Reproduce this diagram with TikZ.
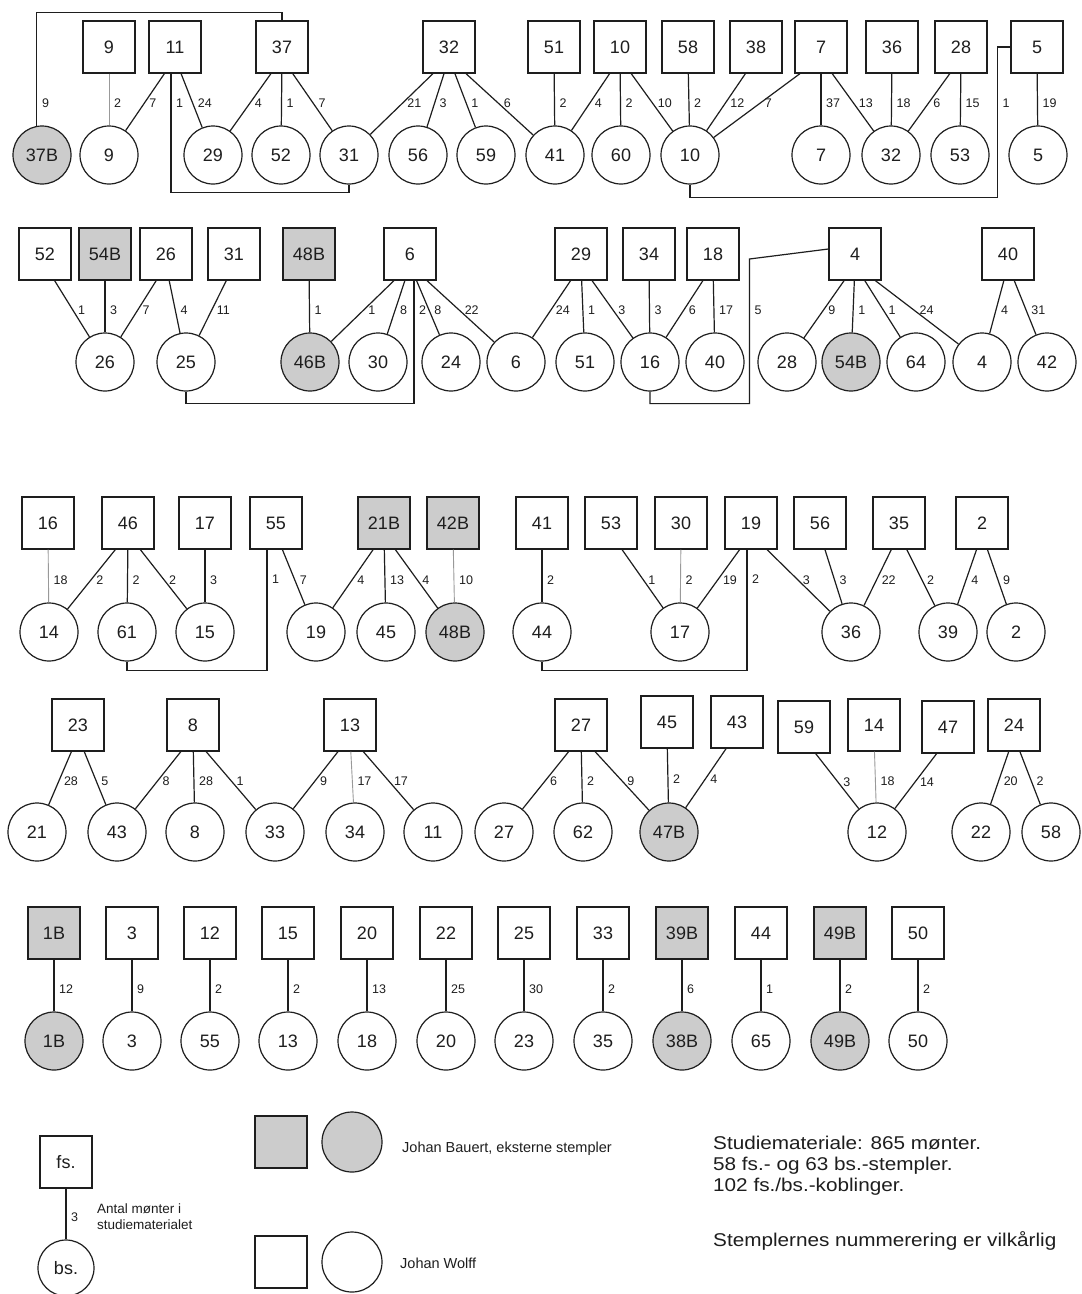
\documentclass[tikz,border=0pt]{standalone}
\usepackage{fontspec}
\setmainfont{Liberation Sans}
\newfontfamily\widefont[FakeStretch=1.12]{Liberation Sans}
\usetikzlibrary{calc}
\definecolor{extfill}{RGB}{204,204,204}
\definecolor{inkc}{RGB}{30,30,30}
\tikzset{
  nodefont/.style={font=\fontsize{18}{18}\selectfont},
  sq/.style={draw=inkc, line width=1.2pt, minimum size=52pt, inner sep=0pt, nodefont, text=inkc},
  ci/.style={circle, draw=inkc, line width=1.2pt, minimum size=58pt, inner sep=0pt, nodefont, text=inkc},
  ext/.style={fill=extfill},
  ln/.style={draw=inkc, line width=1.2pt},
  lg/.style={draw=black!40, line width=0.9pt},
  lab/.style={anchor=west, inner sep=0pt, xshift=5pt, font=\fontsize{12.5}{12.5}\selectfont, text=inkc},
  txt/.style={anchor=base west, inner sep=0pt, text=inkc},
}
\newcommand\lk[4][]{%
  \coordinate (lkS) at ($(#2.south)!0.16!(#2.south -| #3)$);
  \draw[ln,#1] (lkS) -- (#3);
  \node[lab] at ($(lkS)!0.366!(#3)$) {#4};}
\begin{document}
\begin{tikzpicture}[x=1pt,y=-1pt]
\useasboundingbox (0,0) rectangle (1082,1294);
\fill[white] (0,0) rectangle (1082,1294);

% ---------- Row A ----------
\foreach \n/\x in {9/109,11/175,37/282,32/449,51/554,10/620,58/688,38/756,7/821,36/892,28/961,5/1037}
  \node[sq] (sA\n) at (\x,47) {\n};
\foreach \n/\x in {9/109,29/213,52/281,31/349,56/418,59/486,41/555,60/621,10/690,7/821,32/891,53/960,5/1038}
  \node[ci] (cA\n) at (\x,155) {\n};
\node[ci,ext] (cA37B) at (42,155) {37B};

\lk[lg]{sA9}{cA9}{2}
\lk{sA11}{cA9}{7}
\lk{sA11}{cA29}{24}
\lk{sA37}{cA29}{4}
\lk{sA37}{cA52}{1}
\lk{sA37}{cA31}{7}
\lk{sA32}{cA31}{21}
\lk{sA32}{cA56}{3}
\lk{sA32}{cA59}{1}
\lk{sA32}{cA41}{6}
\lk{sA51}{cA41}{2}
\lk{sA10}{cA41}{4}
\lk{sA10}{cA60}{2}
\lk{sA10}{cA10}{10}
\lk{sA58}{cA10}{2}
\lk{sA38}{cA10}{12}
\lk{sA7}{cA10}{7}
\lk{sA7}{cA7}{37}
\lk{sA7}{cA32}{13}
\lk{sA36}{cA32}{18}
\lk{sA28}{cA32}{6}
\lk{sA28}{cA53}{15}
\lk{sA5}{cA5}{19}

\coordinate (kA37) at (cA37B.100);
\draw[ln] (kA37) |- ($(sA37.north)+(0,-8)$) -- (sA37.north);
\node[lab] at (kA37 |- 0,103) {9};
\coordinate (kA11) at ([xshift=-4]sA11.south);
\draw[ln] (kA11) |- ($(cA31.south)+(0,8)$) -- (cA31.south);
\node[lab] at (kA11 |- 0,103) {1};
\coordinate (kA5) at ($(sA5.west)+(-13,0)$);
\draw[ln] (sA5.west) -- (kA5) |- ($(cA10.south)+(0,13)$) -- (cA10.south);
\node[lab] at (kA5 |- 0,103) {1};

% ---------- Row B ----------
\foreach \n/\x in {52/45,26/166,31/234,6/410,29/581,34/649,18/713,4/855,40/1008}
  \node[sq] (sB\n) at (\x,254) {\n};
\node[sq,ext] (sB54B) at (105,254) {54B};
\node[sq,ext] (sB48B) at (309,254) {48B};
\foreach \n/\x in {26/105,25/186,30/378,24/451,6/516,51/585,16/650,40/715,28/787,64/916,4/982,42/1047}
  \node[ci] (cB\n) at (\x,362) {\n};
\node[ci,ext] (cB46B) at (310,362) {46B};
\node[ci,ext] (cB54B) at (851,362) {54B};

\lk{sB52}{cB26}{1}
\lk{sB54B}{cB26}{3}
\lk{sB26}{cB26}{7}
\lk{sB26}{cB25}{4}
\lk{sB31}{cB25}{11}
\lk{sB48B}{cB46B}{1}
\lk{sB6}{cB46B}{1}
\lk{sB6}{cB30}{8}
\lk{sB6}{cB24}{8}
\lk{sB6}{cB6}{22}
\lk{sB29}{cB6}{24}
\lk{sB29}{cB51}{1}
\lk{sB29}{cB16}{3}
\lk{sB34}{cB16}{3}
\lk{sB18}{cB16}{6}
\lk{sB18}{cB40}{17}
\lk{sB4}{cB28}{9}
\lk{sB4}{cB54B}{1}
\lk{sB4}{cB64}{1}
\lk{sB4}{cB4}{24}
\lk{sB40}{cB4}{4}
\lk{sB40}{cB42}{31}

\coordinate (kB6) at ([xshift=4]sB6.south);
\draw[ln] (kB6) |- ($(cB25.south)+(0,12)$) -- (cB25.south);
\node[lab] at (kB6 |- 0,310) {2};
\coordinate (kB4) at ($(sB4.west)+(-79,5)$);
\draw[ln] ([yshift=5]sB4.west) -- (kB4) |- ($(cB16.south)+(0,12)$) -- (cB16.south);
\node[lab] at (kB4 |- 0,310) {5};

% ---------- Row C ----------
\foreach \n/\x in {16/48,46/128,17/205,55/276,41/542,53/611,30/681,19/751,56/820,35/899,2/982}
  \node[sq] (sC\n) at (\x,523) {\n};
\node[sq,ext] (sC21B) at (384,523) {21B};
\node[sq,ext] (sC42B) at (453,523) {42B};
\foreach \n/\x in {14/49,61/127,15/205,19/316,45/386,44/542,17/680,36/851,39/948,2/1016}
  \node[ci] (cC\n) at (\x,632) {\n};
\node[ci,ext] (cC48B) at (455,632) {48B};

\lk[lg]{sC16}{cC14}{18}
\lk{sC46}{cC14}{2}
\lk{sC46}{cC61}{2}
\lk{sC46}{cC15}{2}
\lk{sC17}{cC15}{3}
\lk{sC55}{cC19}{7}
\lk{sC21B}{cC19}{4}
\lk{sC21B}{cC45}{13}
\lk{sC21B}{cC48B}{4}
\lk[lg]{sC42B}{cC48B}{10}
\lk{sC41}{cC44}{2}
\lk{sC53}{cC17}{1}
\lk[lg]{sC30}{cC17}{2}
\lk{sC19}{cC17}{19}
\lk{sC19}{cC36}{3}
\lk{sC56}{cC36}{3}
\lk{sC35}{cC36}{22}
\lk{sC35}{cC39}{2}
\lk{sC2}{cC39}{4}
\lk{sC2}{cC2}{9}

\coordinate (kC55) at ([xshift=-9]sC55.south);
\draw[ln] (kC55) |- ($(cC61.south)+(0,9)$) -- (cC61.south);
\node[lab] at (kC55 |- 0,579) {1};
\coordinate (kC19) at ([xshift=-4]sC19.south);
\draw[ln] (kC19) |- ($(cC44.south)+(0,9)$) -- (cC44.south);
\node[lab] at (kC19 |- 0,579) {2};

% ---------- Row D ----------
\foreach \n/\x in {23/78,8/193,13/350,27/581,14/874,24/1014}
  \node[sq] (sD\n) at (\x,725) {\n};
\node[sq] (sD45) at (667,722) {45};
\node[sq] (sD43) at (737,722) {43};
\node[sq] (sD59) at (804,727) {59};
\node[sq] (sD47) at (948,727) {47};
\foreach \n/\x in {21/37,43/117,8/195,33/275,34/355,11/433,27/504,62/583,12/877,22/981,58/1051}
  \node[ci] (cD\n) at (\x,832) {\n};
\node[ci,ext] (cD47B) at (669,832) {47B};

\lk{sD23}{cD21}{28}
\lk{sD23}{cD43}{5}
\lk{sD8}{cD43}{8}
\lk{sD8}{cD8}{28}
\lk{sD8}{cD33}{1}
\lk{sD13}{cD33}{9}
\lk[lg]{sD13}{cD34}{17}
\lk{sD13}{cD11}{17}
\lk{sD27}{cD27}{6}
\lk{sD27}{cD62}{2}
\lk{sD27}{cD47B}{9}
\lk{sD45}{cD47B}{2}
\lk{sD43}{cD47B}{4}
\lk{sD59}{cD12}{3}
\lk[lg]{sD14}{cD12}{18}
\lk{sD47}{cD12}{14}
\lk{sD24}{cD22}{20}
\lk{sD24}{cD58}{2}

% ---------- Row E ----------
\foreach \n/\x in {3/132,12/210,15/288,20/367,22/446,25/524,33/603,44/761,50/918}
  \node[sq] (sE\n) at (\x,933) {\n};
\node[sq,ext] (sE1B) at (54,933) {1B};
\node[sq,ext] (sE39B) at (682,933) {39B};
\node[sq,ext] (sE49B) at (840,933) {49B};
\foreach \n/\x in {3/132,55/210,13/288,18/367,20/446,23/524,35/603,65/761,50/918}
  \node[ci] (cE\n) at (\x,1041) {\n};
\node[ci,ext] (cE1B) at (54,1041) {1B};
\node[ci,ext] (cE38B) at (682,1041) {38B};
\node[ci,ext] (cE49B) at (840,1041) {49B};

\lk{sE1B}{cE1B}{12}
\lk{sE3}{cE3}{9}
\lk{sE12}{cE55}{2}
\lk{sE15}{cE13}{2}
\lk{sE20}{cE18}{13}
\lk{sE22}{cE20}{25}
\lk{sE25}{cE23}{30}
\lk{sE33}{cE35}{2}
\lk{sE39B}{cE38B}{6}
\lk{sE44}{cE65}{1}
\lk{sE49B}{cE49B}{2}
\lk{sE50}{cE50}{2}

% ---------- Legend ----------
\node[sq] (lfs) at (66,1162) {fs.};
\node[ci,minimum size=56pt] (lbs) at (66,1268) {bs.};
\draw[ln] (lfs) -- (lbs);
\node[lab] at (lfs |- 0,1217) {3};
\node[anchor=west, align=left, inner sep=0pt, text=inkc, font=\fontsize{13.5}{16}\selectfont] (lant) at (97,1217) {Antal mønter i\\studiematerialet};

\node[sq,ext] (lgs) at (281,1142) {};
\node[ci,ext,minimum size=60pt] (lgc) at (352,1142) {};
\node[txt, font=\fontsize{14.5}{16}\selectfont] (lgt) at (402,1152) {Johan Bauert, eksterne stempler};
\node[sq] (lws) at (281,1262) {};
\node[ci,minimum size=60pt] (lwc) at (352,1262) {};
\node[txt, font=\fontsize{14.5}{16}\selectfont] (lwt) at (400,1268) {Johan Wolff};

\node[txt, font={\widefont\fontsize{18.5}{21}\selectfont}] (r1) at (713,1149) {Studiemateriale: 865 mønter.};
\node[txt, font={\widefont\fontsize{18.5}{21}\selectfont}] (r2) at (713,1170) {58 fs.- og 63 bs.-stempler.};
\node[txt, font={\widefont\fontsize{18.5}{21}\selectfont}] (r3) at (713,1191) {102 fs./bs.-koblinger.};
\node[txt, font={\widefont\fontsize{18.5}{21}\selectfont}] (r4) at (713,1246) {Stemplernes nummerering er vilkårlig};
\end{tikzpicture}
\end{document}
